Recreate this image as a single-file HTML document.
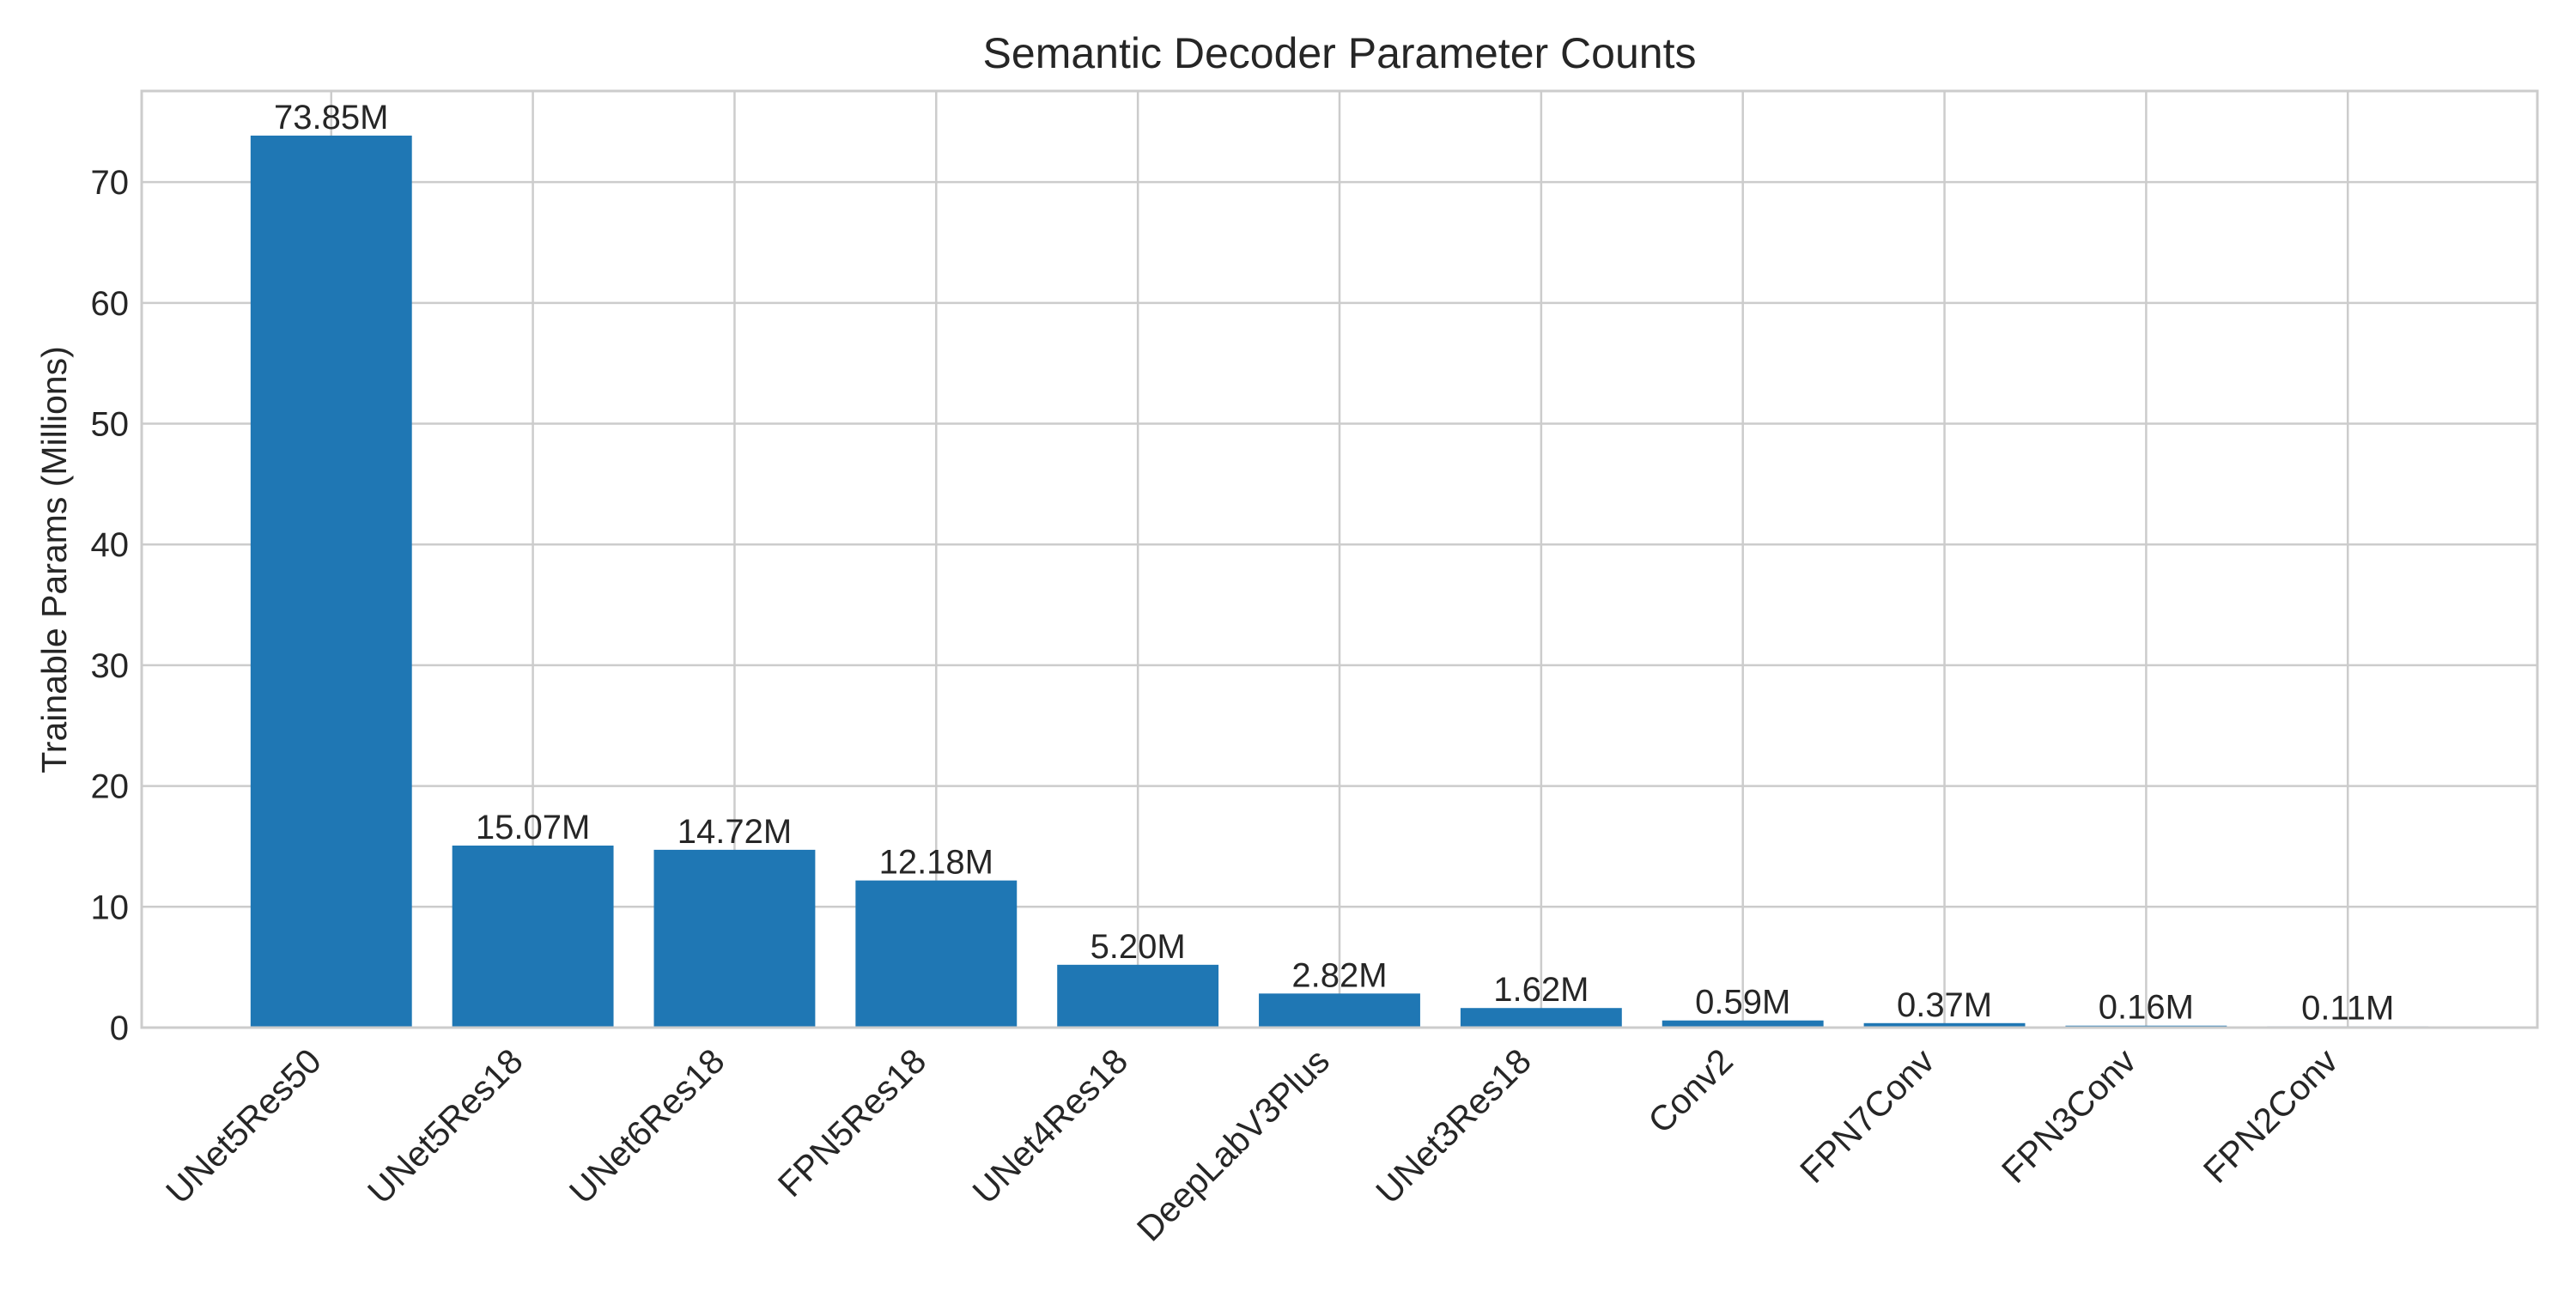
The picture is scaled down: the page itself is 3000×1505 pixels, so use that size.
<!DOCTYPE html>
<html><head><meta charset="utf-8"><style>
html,body{margin:0;padding:0;background:#fff;}
svg text{font-family:"Liberation Sans",sans-serif;fill:#262626;}
</style></head><body>
<svg id="chart" width="3000" height="1500" xmlns="http://www.w3.org/2000/svg">
<rect width="3000" height="1500" fill="#fff"/>
<text x="1560" y="79" font-size="50" text-anchor="middle">Semantic Decoder Parameter Counts</text>
<text transform="translate(77,652) rotate(-90)" font-size="41" text-anchor="middle">Trainable Params (Millions)</text>
<g id="grid"></g><g id="bars"></g><g id="labels"></g>
<rect x="165" y="106" width="2790" height="1091" fill="none" stroke="#cccccc" stroke-width="3"/>
</svg>
<script>
const categories=["UNet5Res50","UNet5Res18","UNet6Res18","FPN5Res18","UNet4Res18","DeepLabV3Plus","UNet3Res18","Conv2","FPN7Conv","FPN3Conv","FPN2Conv"];
const values=[73.85,15.07,14.72,12.18,5.20,2.82,1.62,0.59,0.37,0.16,0.11];
const valueLabels=["73.85M","15.07M","14.72M","12.18M","5.20M","2.82M","1.62M","0.59M","0.37M","0.16M","0.11M"];
const yTicks=[0,10,20,30,40,50,60,70];
const NS="http://www.w3.org/2000/svg";
const L=165,R=2955,T=106,B=1197;
const n=categories.length;
const xmin=-0.94,xmax=n-1+0.94;
const ymax=Math.max(...values)*1.05;
function x(i){return L+(i-xmin)/(xmax-xmin)*(R-L);}
function y(v){return B-v/ymax*(B-T);}
function mk(t,a,p){const e=document.createElementNS(NS,t);for(const k in a)e.setAttribute(k,a[k]);p.appendChild(e);return e;}
const grid=document.getElementById('grid'),bars=document.getElementById('bars'),labels=document.getElementById('labels');
yTicks.forEach(t=>{
 const l=mk('line',{x1:L,x2:R,y1:y(t),y2:y(t),stroke:'#cccccc','stroke-width':2.5},grid);
 
 
 const tx=mk('text',{x:150,y:y(t)+14,'font-size':40,'text-anchor':'end'},labels);
 tx.textContent=t;
 
 
});
const bw=0.8*(x(1)-x(0));
categories.forEach((c,i)=>{
 const cx=x(i);
 const g=mk('line',{x1:cx,x2:cx,y1:T,y2:B,stroke:'#cccccc','stroke-width':2.5},grid);
 
 
 const r=mk('rect',{x:cx-bw/2,y:y(values[i]),width:bw,height:B-y(values[i]),fill:'#1f77b4'},bars);
 
 
 const v=mk('text',{x:cx,y:y(values[i])-8,'font-size':40,'text-anchor':'middle'},labels);
 v.textContent=valueLabels[i];
 
 
 const tl=mk('text',{transform:`translate(${cx-31},${B+20}) rotate(-45)`,'font-size':41,'text-anchor':'end',dy:'0.75em'},labels);
 tl.textContent=c;
 
 
});
</script>
</body></html>
